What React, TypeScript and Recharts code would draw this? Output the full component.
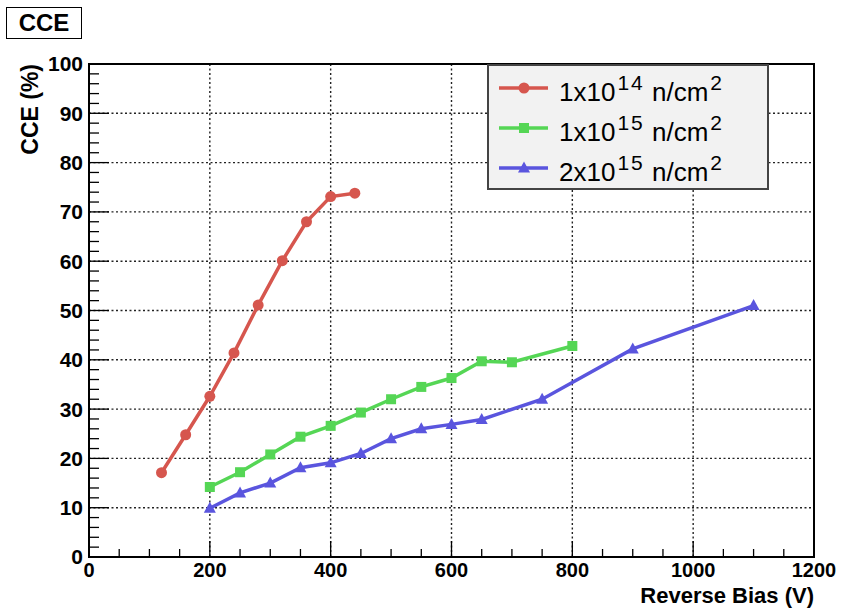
import {
  LineChart,
  Line,
  XAxis,
  YAxis,
  CartesianGrid,
  ReferenceDot,
  ReferenceArea,
} from "recharts";

// fluence 1e14
const volts14 = [120, 160, 200, 240, 280, 320, 360, 400, 440];
const cce14 = [17.1, 24.8, 32.6, 41.4, 51.1, 60.1, 68.0, 73.1, 73.8];
// fluence 1e15
const volts15 = [200, 250, 300, 350, 400, 450, 500, 550, 600, 650, 700, 800];
const cce15 = [14.2, 17.2, 20.8, 24.4, 26.6, 29.3, 32.0, 34.5, 36.3, 39.7, 39.5, 42.8];
// fluence 2e15
const volts2e15 = [200, 250, 300, 350, 400, 450, 500, 550, 600, 650, 750, 900, 1100];
const cce2e15 = [9.9, 13.0, 15.0, 18.1, 19.1, 21.0, 24.0, 26.0, 26.9, 27.9, 32.0, 42.2, 51.0];

const xTicks = [0, 200, 400, 600, 800, 1000, 1200];
const yTicks = [0, 10, 20, 30, 40, 50, 60, 70, 80, 90, 100];
const xMinor = Array.from({ length: 25 }, (_, i) => i * 50);
const yMinor = Array.from({ length: 51 }, (_, i) => i * 2);

const legendMantissa = ["1x10", "1x10", "2x10"];
const legendExp = ["14", "15", "15"];

const RED = "#d6564e";
const GREEN = "#55d655";
const BLUE = "#5a55de";
const FONT = "'Liberation Sans', Arial, Helvetica, sans-serif";

const toRows = (xs: number[], ys: number[]) =>
  xs.map((v, i) => ({ v, cce: ys[i] }));

const series = [
  { name: "s14", data: toRows(volts14, cce14), color: RED, marker: "circle" },
  { name: "s15", data: toRows(volts15, cce15), color: GREEN, marker: "square" },
  { name: "s2e15", data: toRows(volts2e15, cce2e15), color: BLUE, marker: "triangle" },
];

const Marker = ({ kind, cx, cy, color }: { kind: string; cx: number; cy: number; color: string }) => {
  if (kind === "square")
    return <rect x={cx - 5} y={cy - 5} width={10} height={10} fill={color} />;
  if (kind === "triangle")
    return (
      <polygon
        points={`${cx},${cy - 6.5} ${cx - 6},${cy + 4.5} ${cx + 6},${cy + 4.5}`}
        fill={color}
      />
    );
  return <circle cx={cx} cy={cy} r={5.5} fill={color} />;
};

const supStyle = {
  fontSize: 21,
  verticalAlign: "11px",
  lineHeight: 0,
  letterSpacing: 2,
  marginLeft: 2,
};

const App = () => {
  return (
    <div style={{ position: "absolute", left: 0, top: 0, width: 842, height: 609, background: "#fff", fontFamily: FONT }}>
      <div
        style={{
          position: "absolute",
          left: 6,
          top: 7,
          width: 74,
          height: 30,
          border: "1.5px solid #000",
          fontWeight: "bold",
          fontSize: 24,
          lineHeight: "30px",
          textAlign: "center",
        }}
      >
        CCE
      </div>

      <LineChart
        width={842}
        height={609}
        margin={{ top: 64, right: 28, left: 29, bottom: 12 }}
        style={{ fontFamily: FONT }}
      >
        <CartesianGrid stroke="#222" strokeWidth={1.4} strokeDasharray="2 2.5" />
        <XAxis
          type="number"
          dataKey="v"
          domain={[0, 1200]}
          ticks={xTicks}
          height={40}
          axisLine={false}
          tickLine={false}
          tickSize={0}
          tickMargin={6}
          tick={{ fill: "#000", fontSize: 20, fontWeight: "bold" }}
          label={{
            content: (p: any) => (
              <text
                x={p.viewBox.x + p.viewBox.width}
                y={p.viewBox.y + 46}
                textAnchor="end"
                fontSize={22}
                fontWeight="bold"
                fill="#000"
              >
                Reverse Bias (V)
              </text>
            ),
          }}
        />
        <YAxis
          type="number"
          domain={[0, 100]}
          ticks={yTicks}
          width={60}
          axisLine={false}
          tickLine={false}
          tickSize={0}
          tickMargin={6}
          tick={{ fill: "#000", fontSize: 21, fontWeight: "bold" }}
          label={{
            content: (p: any) => (
              <text
                x={38}
                y={p.viewBox.y}
                transform={`rotate(-90, 38, ${p.viewBox.y})`}
                textAnchor="end"
                fontSize={23}
                fontWeight="bold"
                fill="#000"
              >
                CCE (%)
              </text>
            ),
          }}
        />
        {xMinor.map((t) => (
          <ReferenceDot
            key={`xm${t}`}
            x={t}
            y={0}
            ifOverflow="visible"
            shape={(p: any) => (
              <line
                x1={p.cx}
                y1={p.cy}
                x2={p.cx}
                y2={p.cy - (t % 200 === 0 ? 16 : 8)}
                stroke="#000"
                strokeWidth={1.3}
              />
            )}
          />
        ))}
        {yMinor.map((t) => (
          <ReferenceDot
            key={`ym${t}`}
            x={0}
            y={t}
            ifOverflow="visible"
            shape={(p: any) => (
              <line
                x1={p.cx}
                y1={p.cy}
                x2={p.cx + (t % 10 === 0 ? 20 : 10)}
                y2={p.cy}
                stroke="#000"
                strokeWidth={1.3}
              />
            )}
          />
        ))}
        {series.map((s) => (
          <Line
            key={s.name}
            data={s.data}
            dataKey="cce"
            type="linear"
            stroke={s.color}
            strokeWidth={3.5}
            isAnimationActive={false}
            dot={(p: any) => (
              <Marker key={`${s.name}-${p.index}`} kind={s.marker} cx={p.cx} cy={p.cy} color={s.color} />
            )}
            activeDot={false}
          />
        ))}
        <ReferenceArea
          x1={0}
          x2={1200}
          y1={0}
          y2={100}
          fill="none"
          stroke="#000"
          strokeWidth={2}
          ifOverflow="visible"
        />
      </LineChart>

      <div
        style={{
          position: "absolute",
          left: 487,
          top: 64,
          width: 278,
          height: 120,
          background: "#f2f2f2",
          border: "2px solid #444",
          paddingTop: 2,
        }}
      >
        {series.map((s, i) => (
          <div key={s.name} style={{ height: 40, display: "flex", alignItems: "center" }}>
            <svg width={70} height={40} style={{ flex: "none" }}>
              <line x1={10} y1={20} x2={59} y2={20} stroke={s.color} strokeWidth={3.5} />
              <Marker kind={s.marker} cx={35} cy={20} color={s.color} />
            </svg>
            <span style={{ fontSize: 26, color: "#000", whiteSpace: "nowrap", marginTop: 8 }}>
              {legendMantissa[i]}
              <sup style={supStyle}>{legendExp[i]}</sup> n/cm
              <sup style={supStyle}>2</sup>
            </span>
          </div>
        ))}
      </div>
    </div>
  );
};

export default App;
